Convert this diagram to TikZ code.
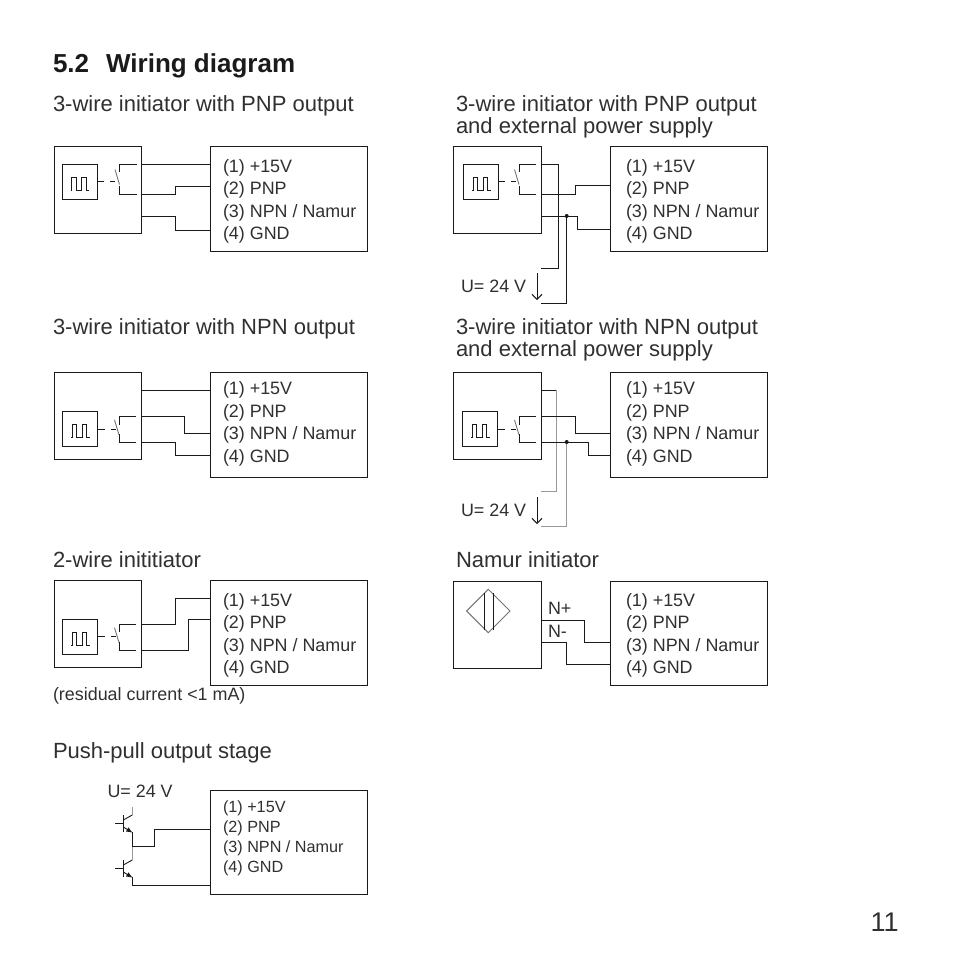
\documentclass[tikz,border=0pt]{standalone}
\usepackage{fontspec}
\setmainfont{Liberation Sans}
\usetikzlibrary{arrows.meta,calc}
\definecolor{ink}{HTML}{1A1A1A}
\definecolor{tink}{HTML}{303030}
\tikzset{
  box/.style={draw=ink,line width=1pt,inner sep=0pt,outer sep=0pt,rectangle},
  wire/.style={draw=ink,line width=1pt,line join=miter},
  graywire/.style={draw=black!40,line width=1pt},
  thin wire/.style={draw=ink,line width=.9pt},
  txt/.style={anchor=base west,inner sep=0pt,outer sep=0pt,text=tink},
  head/.style={txt,font=\fontsize{22}{24}\selectfont},
  lab/.style={txt,font=\fontsize{17.9}{20}\selectfont},
  small/.style={txt,font=\fontsize{16.2}{20}\selectfont},
  volt/.style={txt,font=\fontsize{17.9}{20}\selectfont},
  dot/.style={circle,fill=ink,inner sep=0pt,minimum size=4pt},
  barb/.style={wire,-{Straight Barb[length=5pt,width=10pt,line width=1pt]}},
}
\newcommand{\rectnode}[5]{%
  \node[box,minimum width={(#4-#2)*1pt},minimum height={(#5-#3)*1pt}] (#1) at ({(#2+#4)/2},{(#3+#5)/2}) {};}
\newcommand{\termlabels}[3]{% name, text x, top
  \node[lab] (#1a) at (#2,#3+26) {(1) +15V};
  \node[lab] (#1b) at (#2,#3+48.4) {(2) PNP};
  \node[lab] (#1c) at (#2,#3+71.1) {(3) NPN / Namur};
  \node[lab] (#1d) at (#2,#3+93.4) {(4) GND};}
% name, inner x, inner y, contact x, top y, bottom y
\newcommand{\pulsecontact}[6]{%
  \rectnode{#1}{#2}{#3}{#2+35}{#3+35}
  \draw[thin wire] (#2+8.7,#3+26) -- ++(1,0) -- ++(0,-12.7) -- ++(4.3,0) -- ++(0,12.7) -- ++(5.7,0) -- ++(0,-12.7) -- ++(4.3,0) -- ++(0,12.7) -- ++(3.3,0);
  \draw[wire] (#1.east) -- ++(7,0);
  \draw[wire] ($(#1.east)+(13,0)$) -- ++(5,0);
  \draw[thin wire,draw=black!55] (#4-4.5,{(#5+#6)/2-9.5}) -- (#4,{(#5+#6)/2+5.5});
  \draw[wire] (#4+17,#5) -- (#4,#5) -- (#4,#5+8);
  \draw[wire] (#4,#6-8) -- (#4,#6) -- (#4+17,#6);}
\begin{document}
\begin{tikzpicture}[x=1pt,y=-1pt]
\useasboundingbox (0,0) rectangle (954,954);
\fill[white] (0,0) rectangle (954,954);
\node[txt,text=ink,font=\bfseries\fontsize{26}{30}\selectfont] (title) at (53,72) {5.2\hspace{17pt}Wiring diagram};

% Panel 1
\node[head] (h1) at (53,111) {3-wire initiator with PNP output};
\rectnode{s1}{54}{146}{141}{233}
\rectnode{t1}{210.5}{146}{367}{251}
\termlabels{t1}{223}{146}
\pulsecontact{p1}{62}{164}{119.5}{164}{194}
\draw[wire] (s1.east |- 0,164) -- (t1.west |- 0,164);
\draw[wire] (s1.east |- 0,194) -- (175,194) -- (175,186) -- (t1.west |- 0,186);
\draw[wire] (s1.east |- 0,216) -- (175,216) -- (175,230) -- (t1.west |- 0,230);

% Panel 2
\node[head] (h2a) at (456,111) {3-wire initiator with PNP output};
\node[head] (h2b) at (456,133) {and external power supply};
\rectnode{s2}{453.5}{146}{541}{233}
\rectnode{t2}{610.5}{146}{767}{251}
\termlabels{t2}{626}{146}
\pulsecontact{p2}{463.3}{164.3}{519}{164}{194}
\coordinate (u2a) at (541,268);
\coordinate (u2b) at (541,303);
\draw[wire] (s2.east |- 0,164) -- (558,164) -- (558,268) -- (u2a);
\draw[wire] (s2.east |- 0,194) -- (575,194) -- (575,185) -- (t2.west |- 0,185);
\draw[wire] (s2.east |- 0,216) -- (577,216) -- (577,229) -- (t2.west |- 0,229);
\node[dot] (d2) at (566.7,216) {};
\draw[wire] (d2) -- (566.7,303) -- (u2b);
\node[volt] (u2) at (461,292) {U= 24 V};
\coordinate (a2a) at (537,273);
\coordinate (a2b) at (537,300);
\draw[barb] (a2a) -- (a2b);

% Panel 3
\node[head] (h3) at (53,334) {3-wire initiator with NPN output};
\rectnode{s3}{54.3}{372.3}{141.5}{459.3}
\rectnode{t3}{210.5}{372.3}{367}{477.3}
\termlabels{t3}{223}{368.7}
\pulsecontact{p3}{62.7}{411.5}{119}{416.7}{442}
\draw[wire] (s3.east |- 0,390) -- (t3.west |- 0,390);
\draw[wire] (s3.east |- 0,416.7) -- (184.3,416.7) -- (184.3,433.3) -- (t3.west |- 0,433.3);
\draw[wire] (s3.east |- 0,442) -- (175.7,442) -- (175.7,455) -- (t3.west |- 0,455);

% Panel 4
\node[head] (h4a) at (456,334) {3-wire initiator with NPN output};
\node[head] (h4b) at (456,356) {and external power supply};
\rectnode{s4}{453.5}{372.3}{541}{459.3}
\rectnode{t4}{610.5}{372.3}{767}{477.3}
\termlabels{t4}{626}{368.7}
\pulsecontact{p4}{462.5}{411.5}{519}{416.7}{442}
\coordinate (u4a) at (541,491.7);
\coordinate (u4b) at (541,526.7);
\draw[wire] (s4.east |- 0,390) -- (556.7,390);
\draw[graywire] (556.7,390) -- (556.7,491.7) -- (u4a);
\draw[wire] (s4.east |- 0,416.7) -- (575.7,416.7) -- (575.7,433.3) -- (t4.west |- 0,433.3);
\draw[wire] (s4.east |- 0,442) -- (588.3,442) -- (588.3,455) -- (t4.west |- 0,455);
\node[dot] (d4) at (566.7,442) {};
\draw[graywire] (d4) -- (566.7,526.7) -- (u4b);
\node[volt] (u4) at (461,516) {U= 24 V};
\coordinate (a4a) at (537,497);
\coordinate (a4b) at (537,524);
\draw[barb] (a4a) -- (a4b);

% Panel 5
\node[head] (h5) at (53,567) {2-wire inititiator};
\rectnode{s5}{54.3}{580}{141.5}{667}
\rectnode{t5}{210.5}{580}{367}{685}
\termlabels{t5}{223}{580}
\pulsecontact{p5}{62.5}{619.3}{119}{624.3}{650}
\draw[wire] (s5.east |- 0,624.3) -- (175.7,624.3) -- (175.7,598.3) -- (t5.west |- 0,598.3);
\draw[wire] (s5.east |- 0,650) -- (188.3,650) -- (188.3,619) -- (t5.west |- 0,619);
\node[volt] (res) at (53,700) {(residual current <1 mA)};

% Panel 6
\node[head] (h6) at (456,567) {Namur initiator};
\rectnode{s6}{453.5}{581}{541}{668}
\rectnode{t6}{610.5}{581}{767}{685}
\termlabels{t6}{626}{580}
\draw[graywire,draw=black!55] (488.3,589.3) -- (510,611) -- (488.3,632.7) -- (466.6,611) -- cycle;
\draw[wire] (484.7,593) -- (484.7,630);
\draw[wire] (493.3,593) -- (493.3,630);
\draw[wire] (s6.east |- 0,620) -- (584.3,620) -- (584.3,642.3) -- (t6.west |- 0,642.3);
\draw[wire] (s6.east |- 0,642.3) -- (566.7,642.3) -- (566.7,664) -- (t6.west |- 0,664);
\node[volt] (np) at (548,614) {N+};
\node[volt] (nm) at (548,637) {N-};

% Panel 7
\node[head] (h7) at (53,758) {Push-pull output stage};
\node[volt] (u7) at (107.5,797) {U= 24 V};
\rectnode{t7}{210.5}{790}{367}{894.5}
\node[small] (l1) at (223,812) {(1) +15V};
\node[small] (l2) at (223,832) {(2) PNP};
\node[small] (l3) at (223,852) {(3) NPN / Namur};
\node[small] (l4) at (223,872) {(4) GND};
% upper transistor
\coordinate (b1) at (123.3,823.3);
\draw[wire] (115,823.3) -- (b1);
\draw[wire] (123.3,815) -- (123.3,831.7);
\draw[thin wire] (123.3,820) -- (132.3,815);
\draw[graywire] (132.3,815) -- (132.3,807);
\draw[thin wire,-{Latex[length=6.5pt,width=5pt]}] (123.3,827) -- (132.8,832.8);
% lower transistor
\coordinate (b2) at (123.3,868.3);
\draw[wire] (115,868.3) -- (b2);
\draw[wire] (123.3,860) -- (123.3,876.7);
\draw[thin wire] (123.3,865) -- (132.3,860);
\draw[thin wire,-{Latex[length=6.5pt,width=5pt]}] (123.3,872) -- (132.8,877.8);
\coordinate (j) at (132.3,846.7);
\draw[wire] (132.3,832) -- (j);
\draw[graywire] (j) -- (132.3,860);
\draw[wire] (j) -- (154.3,846.7) -- (154.3,829.3) -- (t7.west |- 0,829.3);
\draw[wire] (132.3,877) -- (132.3,885) -- (t7.west |- 0,885);

\node[txt,font=\fontsize{27}{30}\selectfont] (pg) at (870.5,931) {11};
\end{tikzpicture}
\end{document}
